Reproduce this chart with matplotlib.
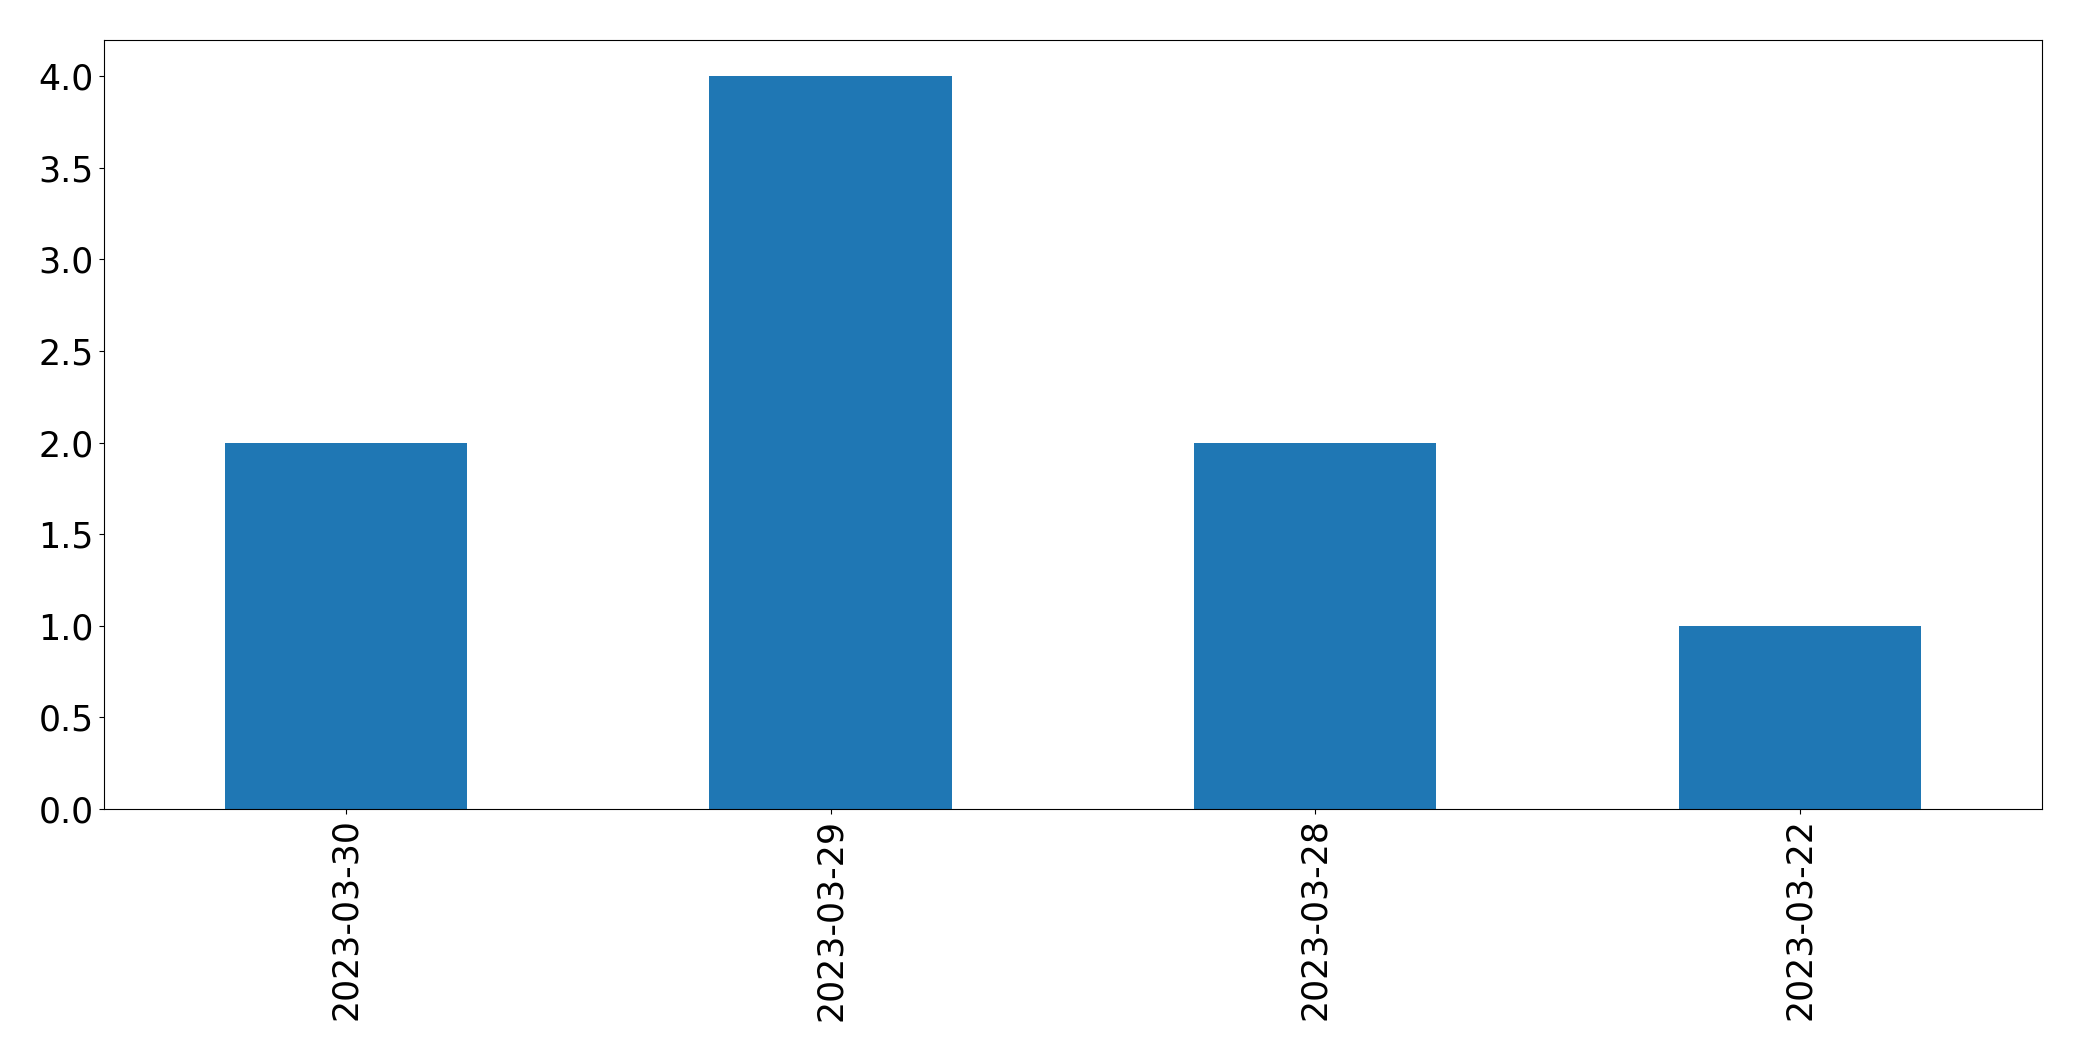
import matplotlib
matplotlib.use("Agg")
import matplotlib.pyplot as plt
import numpy as np

dates = ["2023-03-30", "2023-03-29", "2023-03-28", "2023-03-22"]
counts = [2, 4, 2, 1]

fig, ax = plt.subplots(figsize=(20.82, 10.61), dpi=100)
fig.subplots_adjust(left=0.0498, right=0.9808, top=0.9625, bottom=0.2378)

x = np.arange(len(dates))
ax.bar(x, counts, width=0.5, color="#1f77b4")
ax.set_xlim(-0.5, len(dates) - 0.5)
ax.set_ylim(0, max(counts) * 1.05)
ax.set_xticks(x)
ax.set_xticklabels(dates, rotation=90)
ax.tick_params(labelsize=25)

fig.savefig("out.png")
